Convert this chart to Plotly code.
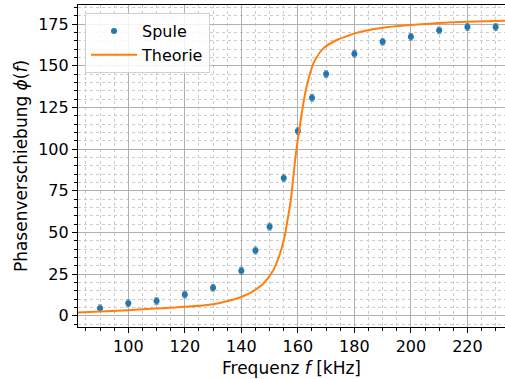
import plotly.graph_objects as go

# Measured data (Spule)
freq = [90, 100, 110, 120, 130, 140, 145, 150, 155, 160, 165, 170, 180, 190, 200, 210, 220, 230]
phase = [4.6, 7.6, 8.9, 12.8, 16.8, 27.0, 39.2, 53.4, 82.6, 110.8, 130.8, 145.0, 157.2, 164.3, 167.3, 171.2, 173.2, 173.2]
phase_err = [2, 2, 2, 2, 2, 2, 2, 2, 2, 2, 2, 2, 2, 2, 2, 2, 2, 2]

# Theory curve
theory_f = [82.2, 100, 120, 130, 136, 139.5, 143, 147.8, 151.3, 153.7, 155.3, 156.3, 157.4,
            158.2, 159.0, 160.0, 161.0, 162.0, 163.1, 165.5, 169.0, 173.8, 178.5, 180,
            190, 200, 210, 220, 233.3]
theory_phi = [2.0, 3.4, 5.4, 7.0, 9.2, 11.0, 13.6, 19.4, 27.4, 37.4, 47.5, 57.0, 68.0,
              80.0, 93.0, 106.0, 117.0, 128.0, 137.4, 151.4, 160.4, 165.4, 168.4, 169.4,
              172.8, 174.4, 175.6, 176.4, 177.0]

x_ticks = [100, 120, 140, 160, 180, 200, 220]
y_ticks = [0, 25, 50, 75, 100, 125, 150, 175]

font = "DejaVu Sans"

fig = go.Figure()
fig.add_trace(go.Scatter(
    x=freq, y=phase, mode="markers", name="Spule",
    marker=dict(color="#1f77b4", size=6),
    error_y=dict(type="data", array=phase_err, color="rgba(110,110,110,0.7)",
                 thickness=1.2, width=2),
))
fig.add_trace(go.Scatter(
    x=theory_f, y=theory_phi, mode="lines", name="Theorie",
    line=dict(color="#ff7f0e", width=2, shape="spline", smoothing=0.7),
))

axis_common = dict(
    showline=True, linecolor="black", linewidth=1.2,
    ticks="outside", ticklen=5, tickwidth=1.2, tickcolor="black",
    showgrid=True, gridcolor="#b0b0b0", gridwidth=1.2,
    zeroline=False,
    tickfont=dict(family=font, size=16, color="black"),
    minor=dict(ticks="outside", ticklen=3, tickwidth=1, tickcolor="black",
               showgrid=True, gridcolor="#cccccc", gridwidth=0.8, griddash="dot"),
)

fig.update_xaxes(
    **axis_common,
    range=[82.2, 233.3], tickvals=x_ticks, mirror=True,
    title=dict(text="Frequenz <i>f</i> [kHz]", font=dict(family=font, size=17, color="black"),
               standoff=6),
)
fig.update_xaxes(minor_dtick=5, minor_tick0=0)
fig.update_yaxes(
    **axis_common,
    range=[-6.7, 186.4], tickvals=y_ticks,
    title=dict(text="Phasenverschiebung <i>ϕ</i>(<i>f</i>)", font=dict(family=font, size=17, color="black"),
               standoff=6),
)
fig.update_yaxes(minor_dtick=5, minor_tick0=0)

fig.update_layout(
    width=505, height=379,
    margin=dict(l=78, r=0, t=5, b=52, autoexpand=False),
    plot_bgcolor="white", paper_bgcolor="white",
    font=dict(family=font, size=16, color="black"),
    showlegend=True,
    legend=dict(x=0.0164, y=0.975, xanchor="left", yanchor="top",
                bgcolor="rgba(255,255,255,0.85)", bordercolor="#d0d0d0", borderwidth=1,
                font=dict(family=font, size=16, color="black"),
                itemwidth=46, traceorder="grouped", tracegroupgap=3),
)

fig.write_html("out.html", config={"displayModeBar": False},
               post_script="document.body.style.margin='0';document.body.style.overflow='hidden';")
